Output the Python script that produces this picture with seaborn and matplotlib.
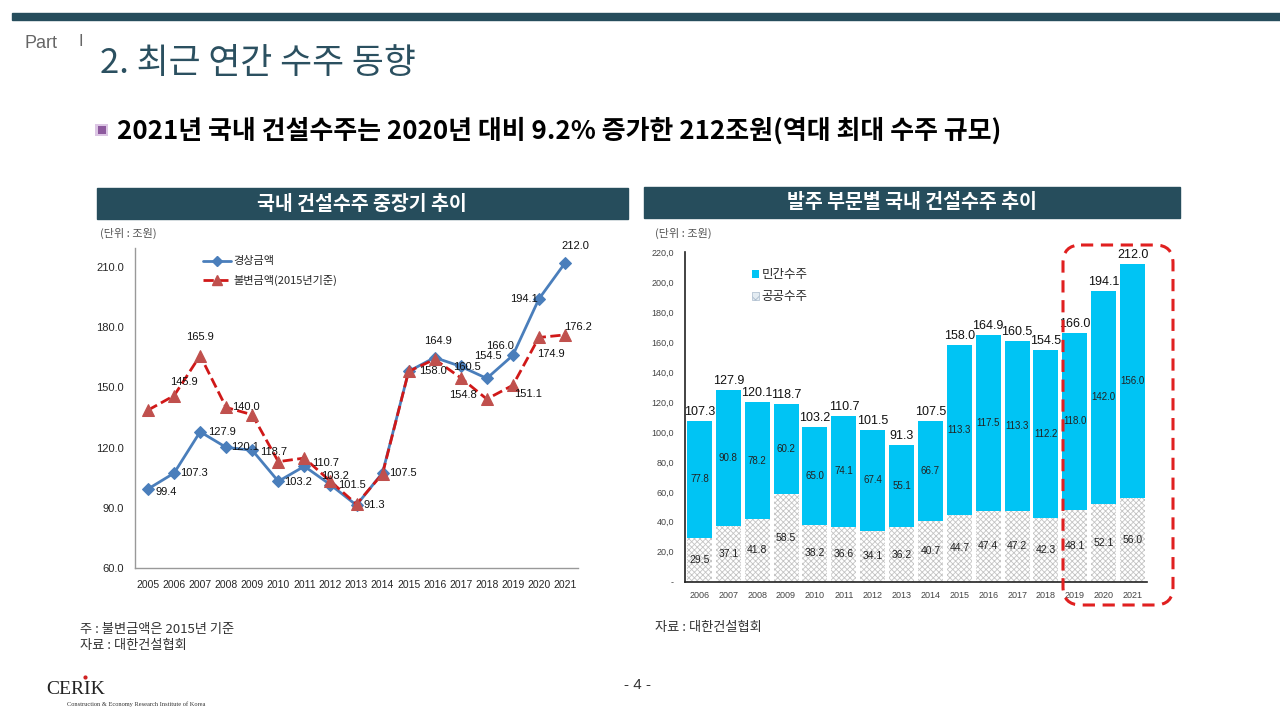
import matplotlib
matplotlib.use("Agg")
import matplotlib.pyplot as plt
from matplotlib.patches import FancyBboxPatch, Rectangle
from matplotlib.lines import Line2D
import seaborn as sns

# ------------------------------ DATA ------------------------------

# left chart: 국내 건설수주 중장기 추이 (조원)
years_left = list(range(2005, 2022))
nominal = [99.4, 107.3, 127.9, 120.1, 118.7, 103.2, 110.7, 101.5, 91.3,
           107.5, 158.0, 164.9, 160.5, 154.5, 166.0, 194.1, 212.0]
constant = [138.7, 145.9, 165.9, 140.0, 136.4, 113.0, 114.8, 103.2, 91.8,
            107.0, 158.0, 164.0, 154.8, 144.2, 151.1, 174.9, 176.2]
constant_labeled = [2006, 2007, 2008, 2012, 2017, 2019, 2020, 2021]

# right chart: 발주 부문별 국내 건설수주 추이 (조원)
years_right = [str(y) for y in range(2006, 2022)]
private = [77.8, 90.8, 78.2, 60.2, 65.0, 74.1, 67.4, 55.1, 66.7,
           113.3, 117.5, 113.3, 112.2, 118.0, 142.0, 156.0]
public = [29.5, 37.1, 41.8, 58.5, 38.2, 36.6, 34.1, 36.2, 40.7,
          44.7, 47.4, 47.2, 42.3, 48.1, 52.1, 56.0]
total = [107.3, 127.9, 120.1, 118.7, 103.2, 110.7, 101.5, 91.3, 107.5,
         158.0, 164.9, 160.5, 154.5, 166.0, 194.1, 212.0]

# ------------------------------ STYLE ------------------------------

sns.set_style("white")
plt.rcParams['font.family'] = ['Noto Sans CJK KR', 'DejaVu Sans']
plt.rcParams['hatch.linewidth'] = 0.6
NUM = ['Liberation Sans Narrow', 'Liberation Sans', 'DejaVu Sans']

TEAL = '#264d5c'
BLUE = '#4a7ebb'
RED = '#d01818'
TRI = '#c0504d'
CYAN = '#00c4f4'

W, H = 1280, 720
fig = plt.figure(figsize=(12.8, 7.2), dpi=100)


def box(x0, y0, x1, y1):
    # pixel box (top-left origin) -> figure fraction
    return [x0 / W, 1 - y1 / H, (x1 - x0) / W, (y1 - y0) / H]


# background layer for slide text, pixel coordinates
bg = fig.add_axes([0, 0, 1, 1], zorder=5)
bg.set_xlim(0, W)
bg.set_ylim(H, 0)
bg.axis('off')
bg.patch.set_alpha(0)

bg.add_patch(Rectangle((12, 13), 1268, 7, color=TEAL))
bg.text(24, 44, 'Part', fontsize=13, color='#666666', va='center', family=NUM)
bg.text(79, 42, 'I', fontsize=12, color='#666666', va='center', family=NUM)
bg.text(100, 64, '2. 최근 연간 수주 동향', fontsize=25, color='#2b5060', va='center')

bg.add_patch(Rectangle((95, 124), 13, 12, facecolor='#dcc6e4', edgecolor='none'))
bg.add_patch(Rectangle((98, 126), 8, 8, facecolor='#8d5a9e', edgecolor='none'))
bg.text(117, 131, '2021년 국내 건설수주는 2020년 대비 9.2% 증가한 212조원(역대 최대 수주 규모)',
        fontsize=18.7, fontweight='bold', color='black', va='center')

bg.add_patch(Rectangle((97, 188), 531, 31, color=TEAL))
bg.text(362, 204, '국내 건설수주 중장기 추이', fontsize=14, fontweight='bold',
        color='white', ha='center', va='center')
bg.add_patch(Rectangle((644, 187), 536, 31, color=TEAL))
bg.text(912, 203, '발주 부문별 국내 건설수주 추이', fontsize=14, fontweight='bold',
        color='white', ha='center', va='center')

bg.text(100, 233, '(단위 : 조원)', fontsize=8, color='#555555', va='center')
bg.text(655, 233, '(단위 : 조원)', fontsize=8, color='#555555', va='center')

bg.text(80, 630, '주 : 불변금액은 2015년 기준', fontsize=9.5, color='#333333', va='center')
bg.text(80, 645, '자료 : 대한건설협회', fontsize=9.5, color='#333333', va='center')
bg.text(655, 628, '자료 : 대한건설협회', fontsize=9.5, color='#333333', va='center')
bg.text(638, 685, '- 4 -', fontsize=11, color='#333333', ha='center', va='center', family=NUM)

bg.text(46, 690, 'CERIK', fontsize=14, color='#222222', va='center', family='Liberation Serif')
bg.plot([85], [677], 'o', color='#d02020', markersize=2)
bg.text(67, 704, 'Construction & Economy Research Institute of Korea', fontsize=4.6,
        color='#333333', va='center', family='Liberation Serif')

# red dashed rounded frame around 2019-2021
bg.add_patch(FancyBboxPatch((1063, 245), 110, 360,
                            boxstyle='round,pad=0,rounding_size=18',
                            facecolor='none', edgecolor='#e02020', linewidth=2.2,
                            linestyle=(0, (4, 2.5))))

# ------------------------- LEFT: LINE CHART -------------------------

ax1 = fig.add_axes(box(135, 248, 578, 568))
ax1.patch.set_alpha(0)

sns.lineplot(x=years_left, y=nominal, ax=ax1, color=BLUE, linewidth=2,
             marker='D', markersize=6, markeredgecolor=BLUE, markerfacecolor=BLUE)
sns.lineplot(x=years_left, y=constant, ax=ax1, color=RED, linewidth=2,
             linestyle='--', marker='^', markersize=8,
             markerfacecolor=TRI, markeredgecolor=TRI)

ax1.set_xlim(2004.5, 2021.5)
ax1.set_ylim(60, 219.5)
ax1.set_yticks(range(60, 211, 30))
ax1.set_yticklabels([f'{v:.1f}' for v in range(60, 211, 30)], fontsize=8, family=NUM)
ax1.set_xticks(years_left)
ax1.set_xticklabels([str(y) for y in years_left], fontsize=7.5, family=NUM)
ax1.set_xticks([y + 0.5 for y in years_left[:-1]] + [2004.5], minor=True)
ax1.tick_params(axis='x', which='major', length=0, pad=9)
ax1.tick_params(axis='x', which='minor', length=5, color='#999999', direction='out')
ax1.tick_params(axis='y', length=0, pad=8)
for s in ['top', 'right']:
    ax1.spines[s].set_visible(False)
for s in ['left', 'bottom']:
    ax1.spines[s].set_color('#999999')
    ax1.spines[s].set_linewidth(1)
ax1.set_xlabel('')
ax1.set_ylabel('')

# label offsets in pixels (right of point unless noted)
nominal_off = {2005: (18, -3), 2006: (20, 0), 2007: (22, 0), 2008: (19, 0),
               2009: (21, -2), 2010: (20, -1), 2011: (21, 3), 2012: (22, 0),
               2013: (18, 0), 2014: (20, 0), 2015: (24, 0), 2016: (3, 17),
               2017: (6, -1), 2018: (1, 22), 2019: (-13, 9), 2020: (-15, 0),
               2021: (10, 17)}
for yr, v in zip(years_left, nominal):
    dx, dy = nominal_off[yr]
    ax1.annotate(f'{v:.1f}', (yr, v), xytext=(dx, dy), textcoords='offset pixels',
                 ha='center', va='center', fontsize=8, family=NUM, color='#111111')

constant_off = {2006: (10, 14), 2007: (0, 19), 2008: (20, 0), 2012: (5, 5),
                2017: (2, -17), 2019: (15, -9), 2020: (12, -17), 2021: (13, 8)}
for yr, v in zip(years_left, constant):
    if yr in constant_labeled:
        dx, dy = constant_off[yr]
        ax1.annotate(f'{v:.1f}', (yr, v), xytext=(dx, dy), textcoords='offset pixels',
                     ha='center', va='center', fontsize=8, family=NUM, color='#111111')

handles1 = [
    Line2D([], [], color=BLUE, linewidth=2, marker='D', markersize=5),
    Line2D([], [], color=RED, linewidth=2, linestyle='--', marker='^', markersize=7,
           markerfacecolor=TRI, markeredgecolor=TRI),
]
ax1.legend(handles1, ['경상금액', '불변금액(2015년기준)'], loc='upper left',
           bbox_to_anchor=(0.13, 1.005), frameon=False, fontsize=8,
           handlelength=2.6, handletextpad=0.2, labelspacing=0.75)

# ------------------------- RIGHT: STACKED BARS -------------------------

ax2 = fig.add_axes(box(685, 252.3, 1147, 581.7))
ax2.patch.set_alpha(0)

sns.barplot(x=years_right, y=total, ax=ax2, color=CYAN, saturation=1, width=0.87,
            edgecolor='none')
sns.barplot(x=years_right, y=public, ax=ax2, color='white', saturation=1, width=0.87,
            hatch='xxxxxx', edgecolor='#c4c4c4', linewidth=0)

ax2.set_xlim(-0.5, len(years_right) - 0.5)
ax2.set_ylim(0, 220)
yt = list(range(0, 221, 20))
ax2.set_yticks(yt)
ax2.set_yticklabels(['-'] + [f'{v},0' for v in yt[1:]], fontsize=6.5,
                    family=NUM, color='#444444')
ax2.set_xticks(range(len(years_right)))
ax2.set_xticklabels(years_right, fontsize=6.5, family=NUM, color='#444444')
ax2.tick_params(axis='x', length=0, pad=7)
ax2.tick_params(axis='y', length=4, direction='out', color='#222222', pad=4, width=1)
for s in ['top', 'right']:
    ax2.spines[s].set_visible(False)
for s in ['left', 'bottom']:
    ax2.spines[s].set_color('#222222')
    ax2.spines[s].set_linewidth(1.2)
ax2.set_xlabel('')
ax2.set_ylabel('')

for i in range(len(years_right)):
    ax2.text(i, total[i] + 2, f'{total[i]:.1f}', ha='center', va='bottom',
             fontsize=9, family=NUM, color='#111111')
    ax2.text(i, public[i] + private[i] / 2, f'{private[i]:.1f}', ha='center',
             va='center', fontsize=7, family=NUM, color='#222222')
    ax2.text(i, public[i] / 2, f'{public[i]:.1f}', ha='center', va='center',
             fontsize=7.5, family=NUM, color='#222222')

handles2 = [
    Rectangle((0, 0), 1, 1, facecolor=CYAN, edgecolor='none'),
    Rectangle((0, 0), 1, 1, facecolor='#e4ecf2', hatch='xxx', edgecolor='#aabbcc', linewidth=0.5),
]
ax2.legend(handles2, ['민간수주', '공공수주'], loc='upper left',
           bbox_to_anchor=(0.12, 0.985), frameon=False, fontsize=9,
           handlelength=0.6, handleheight=0.6, handletextpad=0.2, labelspacing=0.7)

fig.savefig('out.png', dpi=100, facecolor='white')
